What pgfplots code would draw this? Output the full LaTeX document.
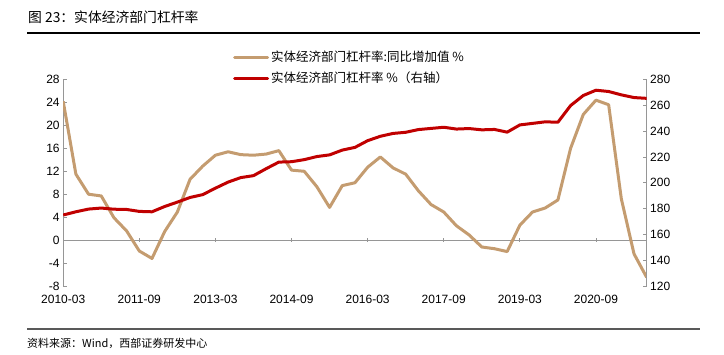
\documentclass[border=0pt]{standalone}
\usepackage{fontspec}
\setmainfont{Liberation Sans}
\newfontfamily\cjk{Noto Sans CJK SC}
\usepackage{pgfplots}
\usepackage{pgfplotstable}
\pgfplotsset{compat=1.18}
\definecolor{tanline}{RGB}{196,156,112}
\definecolor{redline}{RGB}{192,0,0}
\definecolor{axgray}{RGB}{150,150,150}

\pgfplotstableread{
i b r
0 24.2 175.0
1 11.5 177.5
2 8.0 179.6
3 7.7 180.4
4 3.9 179.5
5 1.6 179.3
6 -1.9 177.8
7 -3.2 177.5
8 1.5 181.6
9 4.9 185.0
10 10.6 188.6
11 12.9 190.8
12 14.8 195.8
13 15.4 200.5
14 14.9 204.0
15 14.8 205.5
16 15.0 210.9
17 15.6 216.0
18 12.2 216.3
19 12.0 217.9
20 9.3 220.3
21 5.7 221.6
22 9.5 225.3
23 10.0 227.4
24 12.7 232.6
25 14.5 236.0
26 12.6 238.2
27 11.5 239.1
28 8.6 241.2
29 6.2 242.1
30 4.9 243.0
31 2.5 241.6
32 0.9 242.0
33 -1.2 241.0
34 -1.5 241.3
35 -2.0 239.2
36 2.6 244.8
37 4.9 246.0
38 5.6 247.2
39 7.0 246.9
40 16.0 259.8
41 21.9 267.6
42 24.4 271.7
43 23.6 270.7
44 7.2 268.1
45 -2.4 266.0
46 -6.5 265.4
}\data

\pgfplotsset{myax/.style={
  at={(63.2pt,68pt)}, anchor=south west,
  width=583.5pt, height=206.5pt, scale only axis,
  xmin=0, xmax=46,
  tick align=inside, major tick length=3.5pt,
  tick label style={font=\fontsize{12}{14}\selectfont},
}}

\begin{document}
\begin{tikzpicture}
\path (0pt,0pt) rectangle (724pt,354pt);
\node[anchor=west, inner sep=0pt, font=\cjk\fontsize{13.8}{15}\selectfont] at (28pt,337pt) {图 23：实体经济部门杠杆率};
\draw[black, line width=1.2pt] (27pt,321pt) -- (700pt,321pt);
\draw[black!65, line width=1.1pt] (27pt,25pt) -- (700pt,25pt);
\node[anchor=west, inner sep=0pt, font=\cjk\fontsize{11}{13}\selectfont] at (27pt,11pt) {资料来源：Wind，西部证券研发中心};

% zero line with ticks
\begin{axis}[myax, ymin=-8, ymax=28,
  axis x line=middle, axis y line=none,
  axis line style={-, axgray, line width=0.8pt},
  xtick={6,12,...,42}, xticklabels={},
  x tick style={axgray, line width=0.8pt},
]
\end{axis}

% left axis
\begin{axis}[myax, ymin=-8, ymax=28,
  axis y line*=left, axis x line*=bottom,
  x axis line style={draw=none},
  xtick={0,6,...,42},
  xticklabels={2010-03,2011-09,2013-03,2014-09,2016-03,2017-09,2019-03,2020-09},
  x tick style={draw=none},
  xticklabel style={yshift=-6pt},
  ytick={-8,-4,...,28},
  yticklabels={-8,-4,0,4,8,12,16,20,24,28},
  y axis line style={axgray, line width=0.8pt},
  y tick style={axgray, line width=0.8pt},
  legend style={at={(0.291,1.0)}, anchor=south west, yshift=-7pt,
    draw=none, fill=none, inner sep=0pt, row sep=5pt,
    font=\cjk\fontsize{12.5}{14}\selectfont, cells={anchor=west}},
  legend image code/.code={\draw[#1, line cap=round] (0pt,0pt) -- (33pt,0pt);},
]
\addplot[tanline, line width=3pt, line join=round] table[x=i,y=b]{\data};
\addlegendentry{实体经济部门杠杆率:同比增加值 \%}
\addlegendimage{redline, line width=3pt}
\addlegendentry{实体经济部门杠杆率 \%（右轴）}
\end{axis}

% right axis
\begin{axis}[myax, ymin=120, ymax=280,
  axis y line*=right, axis x line=none,
  ytick={120,140,...,280},
  yticklabels={120,140,160,180,200,220,240,260,280},
  y axis line style={axgray, line width=0.8pt},
  y tick style={axgray, line width=0.8pt},
]
\addplot[redline, line width=3pt, line join=round] table[x=i,y=r]{\data};
\end{axis}
\end{tikzpicture}
\end{document}
